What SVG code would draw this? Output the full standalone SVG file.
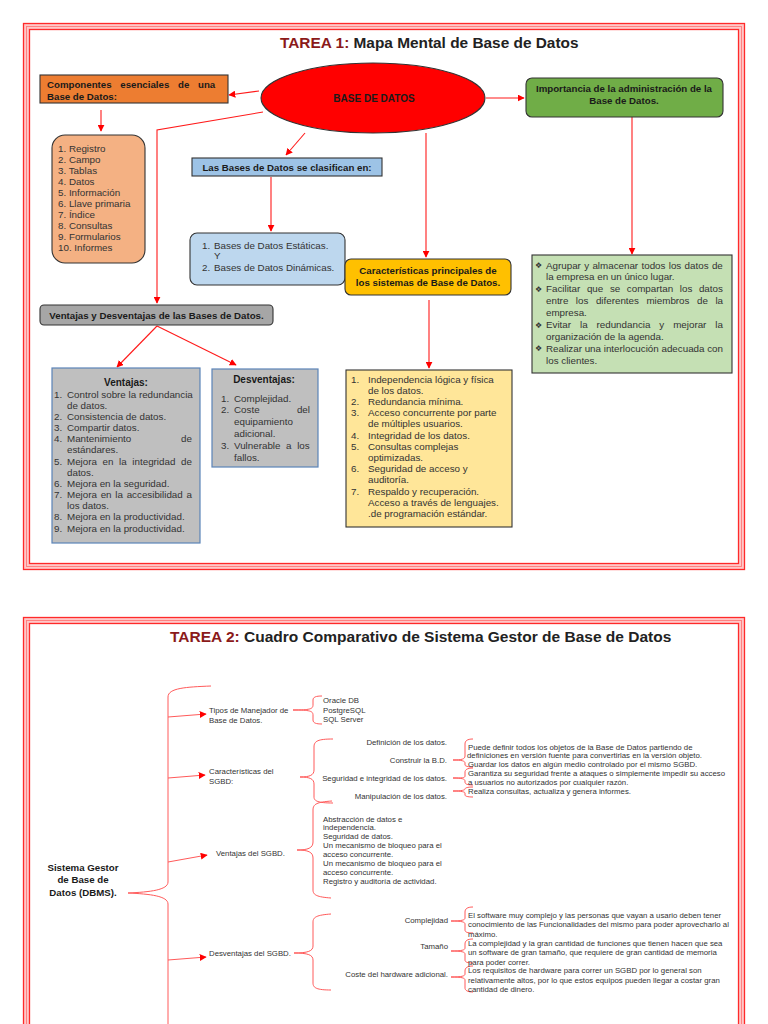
<svg xmlns="http://www.w3.org/2000/svg" width="768" height="1024" viewBox="0 0 768 1024">
<style>
text{font-family:"Liberation Sans",Arial,sans-serif;}
.t{font-size:9.8px;fill:#333;}
.bd{font-size:9.7px;font-weight:bold;fill:#1a1a1a;}
.s{font-size:7.8px;fill:#333;}
.m{text-anchor:middle;}
.e{text-anchor:end;}
.bul{font-family:"DejaVu Sans",sans-serif;font-size:8px;fill:#333;}
.box{stroke:#333;stroke-width:1.1;}
.gb{stroke:#5b84b8;stroke-width:1.2;}
.con{stroke:#ff1a1a;stroke-width:1.1;fill:none;}
.con2{stroke:#ff5a5a;stroke-width:1;fill:none;}
.br{stroke:#ff5a5a;stroke-width:1;fill:none;}
.fu{fill:none;stroke:#ffc8c8;stroke-width:7;}
.fr{fill:none;stroke:#ff2a2a;stroke-width:1.3;}
.fm{fill:none;stroke:#ff7a7a;stroke-width:0.9;}
</style>
<defs>
<marker id="ah" viewBox="0 0 10 10" refX="9" refY="5" markerWidth="7" markerHeight="7" markerUnits="userSpaceOnUse" orient="auto">
<path d="M0,0 L10,5 L0,10 Z" fill="#ff0000"/>
</marker>
</defs>
<rect width="768" height="1024" fill="#ffffff"/>

<g id="frame1">
<rect class="fu" x="26.5" y="26.5" width="715" height="540"/>
<rect class="fr" x="23.5" y="23.5" width="721" height="546"/>
<rect class="fm" x="26.5" y="26.5" width="715" height="540"/>
<rect class="fr" x="29.5" y="29.5" width="709" height="534"/>
</g>
<g id="frame2">
<rect class="fu" x="26.5" y="620.5" width="715" height="440"/>
<rect class="fr" x="23.5" y="617.5" width="721" height="446"/>
<rect class="fm" x="26.5" y="620.5" width="715" height="440"/>
<rect class="fr" x="29.5" y="623.5" width="709" height="434"/>
</g>

<g id="title1">
<text x="280" y="48" style="font-size:15.4px;font-weight:bold;fill:#222"><tspan fill="#8b1a1a">TAREA 1:</tspan> Mapa Mental de Base de Datos</text>
</g>

<g id="connectors">
<line class="con" x1="259" y1="91" x2="229" y2="95" marker-end="url(#ah)"/>
<line class="con" x1="486" y1="98" x2="524" y2="98" marker-end="url(#ah)"/>
<line class="con" x1="101" y1="110" x2="101" y2="131" marker-end="url(#ah)"/>
<line class="con" x1="305" y1="133" x2="286" y2="155" marker-end="url(#ah)"/>
<polyline class="con" points="263,112 157,130 157,303" marker-end="url(#ah)"/>
<line class="con" x1="271" y1="177" x2="271" y2="231" marker-end="url(#ah)"/>
<line class="con" x1="426" y1="133" x2="426" y2="257" marker-end="url(#ah)"/>
<line class="con" x1="632" y1="117" x2="632" y2="254" marker-end="url(#ah)"/>
<line class="con" x1="429" y1="300" x2="429" y2="368" marker-end="url(#ah)"/>
<line class="con" x1="157" y1="326" x2="117" y2="367" marker-end="url(#ah)"/>
<line class="con" x1="157" y1="326" x2="236" y2="365" marker-end="url(#ah)"/>

<path class="br" d="M211 686 C186 687 168 688 168 697 L168 882 C168 890 150 892 128 893 C150 894 168 896 168 904 L168 1030"/>
<line class="con2" x1="168" y1="717" x2="206" y2="714" marker-end="url(#ah)"/>
<line class="con2" x1="168" y1="778" x2="205" y2="775" marker-end="url(#ah)"/>
<line class="con2" x1="168" y1="862" x2="207" y2="855" marker-end="url(#ah)"/>
<line class="con2" x1="168" y1="960" x2="206" y2="957" marker-end="url(#ah)"/>

<path class="br" d="M322 696 C316 696 313 697 313 700 L313 705 C313 709 310 710 293 710 C310 710 313 711 313 715 L313 720 C313 723 316 724 322 724"/>
<path class="br" d="M333 739 C318 739 314 741 314 747 L314 770 C314 775 310 777 300 777 C310 777 314 779 314 784 L314 797 C314 801 318 803 333 803"/>
<path class="br" d="M332 801 C317 802 313 804 313 810 L313 842 C313 848 308 850 297 850 C308 850 313 852 313 858 L313 890 C313 895 317 897 331 898"/>
<path class="br" d="M331 914 C317 915 313 917 313 922 L313 946 C313 951 308 953 294 953 C308 953 313 955 313 960 L313 983 C313 988 317 990 331 990"/>

<path class="br" d="M473 739 C467 739 465 741 465 744 L465 756 C465 759 462 760 453 760 C462 760 465 761 465 763 L465 765 C465 766 468 767 473 767"/>
<path class="br" d="M473 768 C467 768 465 770 465 772 L465 776 C465 778 462 778 453 778 C462 778 465 779 465 781 L465 782 C465 784 467 785 473 785"/>
<path class="br" d="M473 787 C467 787 465 788 465 789 C465 790 462 791 453 791 C462 791 465 792 465 793 L465 795 C465 796 467 797 473 797"/>

<path class="br" d="M473 907 C467 907 465 909 465 912 L465 918 C465 920 462 921 451 921 C462 921 465 922 465 924 L465 930 C465 932 467 933 473 933"/>
<path class="br" d="M473 939 C467 939 465 941 465 944 L465 948 C465 950 462 951 451 951 C462 951 465 952 465 954 L465 960 C465 962 467 963 473 963"/>
<path class="br" d="M473 966 C467 966 465 968 465 971 L465 974 C465 976 462 977 451 977 C462 977 465 978 465 980 L465 988 C465 990 467 992 473 992"/>
</g>

<g id="n-componentes">
<rect class="box" x="40" y="75" width="188" height="28" fill="#ed7d31"/>
<text class="bd" x="47" y="87.5" word-spacing="6">Componentes esenciales de una</text>
<text class="bd" x="47" y="99.5">Base de Datos:</text>
</g>

<g id="n-basedatos">
<ellipse class="box" cx="373" cy="98" rx="112" ry="35" fill="#ff0000"/>
<text class="bd m" x="374" y="102" style="font-size:10px">BASE DE DATOS</text>
</g>

<g id="n-importancia">
<rect class="box" x="526" y="78" width="197" height="39" rx="6" fill="#70ad47"/>
<text class="bd m" x="624" y="92">Importancia de la administración de la</text>
<text class="bd m" x="624" y="104">Base de Datos.</text>
</g>

<g id="n-lista">
<rect class="box" x="52" y="135" width="93" height="128" rx="13" fill="#f4b183"/>
<text class="t" x="58" y="151.5">1. Registro</text>
<text class="t" x="58" y="162.6">2. Campo</text>
<text class="t" x="58" y="173.7">3. Tablas</text>
<text class="t" x="58" y="184.8">4. Datos</text>
<text class="t" x="58" y="195.9">5. Información</text>
<text class="t" x="58" y="207">6. Llave primaria</text>
<text class="t" x="58" y="218.1">7. Índice</text>
<text class="t" x="58" y="229.2">8. Consultas</text>
<text class="t" x="58" y="240.3">9. Formularios</text>
<text class="t" x="58" y="251.4">10. Informes</text>
</g>

<g id="n-clasifican">
<rect class="box" x="192" y="158" width="190" height="18" fill="#9dc3e6"/>
<text class="bd m" x="287" y="171">Las Bases de Datos se clasifican en:</text>
</g>

<g id="n-tipos">
<rect class="box" x="190" y="233" width="155" height="52" rx="7" fill="#bdd7ee"/>
<text class="t" x="202" y="248.5">1.</text>
<text class="t" x="214" y="248.5">Bases de Datos Estáticas.</text>
<text class="t" x="214" y="259">Y</text>
<text class="t" x="202" y="270.5">2.</text>
<text class="t" x="214" y="270.5">Bases de Datos Dinámicas.</text>
</g>

<g id="n-caracteristicas">
<rect class="box" x="345" y="259" width="166" height="36" rx="6" fill="#ffc000"/>
<text class="bd m" x="428" y="273.5">Características principales de</text>
<text class="bd m" x="428" y="285.5">los sistemas de Base de Datos.</text>
</g>

<g id="n-caract-lista">
<rect class="box" x="346" y="370" width="166" height="157" fill="#ffe699"/>
<text class="t" x="351" y="382.5">1.</text><text class="t" x="368" y="382.5">Independencia lógica y física</text>
<text class="t" x="368" y="393.7">de los datos.</text>
<text class="t" x="351" y="404.9">2.</text><text class="t" x="368" y="404.9">Redundancia mínima.</text>
<text class="t" x="351" y="416.1">3.</text><text class="t" x="368" y="416.1">Acceso concurrente por parte</text>
<text class="t" x="368" y="427.3">de múltiples usuarios.</text>
<text class="t" x="351" y="438.5">4.</text><text class="t" x="368" y="438.5">Integridad de los datos.</text>
<text class="t" x="351" y="449.7">5.</text><text class="t" x="368" y="449.7">Consultas complejas</text>
<text class="t" x="368" y="460.9">optimizadas.</text>
<text class="t" x="351" y="472.1">6.</text><text class="t" x="368" y="472.1">Seguridad de acceso y</text>
<text class="t" x="368" y="483.3">auditoría.</text>
<text class="t" x="351" y="494.5">7.</text><text class="t" x="368" y="494.5">Respaldo y recuperación.</text>
<text class="t" x="368" y="505.7">Acceso a través de lenguajes.</text>
<text class="t" x="368" y="516.9">.de programación estándar.</text>
</g>

<g id="n-importancia-lista">
<rect class="box" x="532" y="255" width="200" height="118" fill="#c5e0b4"/>
<text class="bul" x="535" y="268">❖</text><text class="t" x="546" y="268.5" word-spacing="0.6">Agrupar y almacenar todos los datos de</text>
<text class="t" x="546" y="280.4">la empresa en un único lugar.</text>
<text class="bul" x="535" y="291.8">❖</text><text class="t" x="546" y="292.3" word-spacing="3.9">Facilitar que se compartan los datos</text>
<text class="t" x="546" y="304.2" word-spacing="4.8">entre los diferentes miembros de la</text>
<text class="t" x="546" y="316.1">empresa.</text>
<text class="bul" x="535" y="327.5">❖</text><text class="t" x="546" y="328" word-spacing="6.2">Evitar la redundancia y mejorar la</text>
<text class="t" x="546" y="339.9">organización de la agenda.</text>
<text class="bul" x="535" y="351.3">❖</text><text class="t" x="546" y="351.8">Realizar una interlocución adecuada con</text>
<text class="t" x="546" y="363.7">los clientes.</text>
</g>

<g id="n-ventdesv">
<rect class="box" x="40" y="305" width="233" height="20" rx="4" fill="#a6a6a6"/>
<text class="bd m" x="156.5" y="318.5">Ventajas y Desventajas de las Bases de Datos.</text>
</g>

<g id="n-ventajas">
<rect class="gb" x="52" y="368" width="148" height="175" fill="#bfbfbf"/>
<text class="bd m" x="126" y="385.5" style="font-size:10px">Ventajas:</text>
<text class="t" x="54" y="397.5">1.</text><text class="t" x="67" y="397.5">Control sobre la redundancia</text>
<text class="t" x="67" y="408.7">de datos.</text>
<text class="t" x="54" y="419.8">2.</text><text class="t" x="67" y="419.8">Consistencia de datos.</text>
<text class="t" x="54" y="431">3.</text><text class="t" x="67" y="431">Compartir datos.</text>
<text class="t" x="54" y="442.2">4.</text><text class="t" x="67" y="442.2">Mantenimiento</text><text class="t e" x="192" y="442.2">de</text>
<text class="t" x="67" y="453.4">estándares.</text>
<text class="t" x="54" y="464.5">5.</text><text class="t" x="67" y="464.5" word-spacing="2.9">Mejora en la integridad de</text>
<text class="t" x="67" y="475.7">datos.</text>
<text class="t" x="54" y="486.9">6.</text><text class="t" x="67" y="486.9">Mejora en la seguridad.</text>
<text class="t" x="54" y="498">7.</text><text class="t" x="67" y="498" word-spacing="1">Mejora en la accesibilidad a</text>
<text class="t" x="67" y="509.2">los datos.</text>
<text class="t" x="54" y="520.4">8.</text><text class="t" x="67" y="520.4">Mejora en la productividad.</text>
<text class="t" x="54" y="531.6">9.</text><text class="t" x="67" y="531.6">Mejora en la productividad.</text>
</g>

<g id="n-desventajas">
<rect class="gb" x="212" y="369" width="106" height="98" fill="#bfbfbf"/>
<text class="bd m" x="264" y="382.5" style="font-size:10px">Desventajas:</text>
<text class="t" x="221" y="401.5">1.</text><text class="t" x="234" y="401.5">Complejidad.</text>
<text class="t" x="221" y="413.3">2.</text><text class="t" x="234" y="413.3">Coste</text><text class="t e" x="310" y="413.3">del</text>
<text class="t" x="234" y="425.1">equipamiento</text>
<text class="t" x="234" y="436.9">adicional.</text>
<text class="t" x="221" y="448.7">3.</text><text class="t" x="234" y="448.7" word-spacing="2.9">Vulnerable a los</text>
<text class="t" x="234" y="460.5">fallos.</text>
</g>

<g id="title2">
<text x="170" y="642" style="font-size:15.5px;font-weight:bold;fill:#222"><tspan fill="#8b1a1a">TAREA 2:</tspan> Cuadro Comparativo de Sistema Gestor de Base de Datos</text>
</g>

<g id="n-sgbd">
<text class="bd m" x="83" y="870.5">Sistema Gestor</text>
<text class="bd m" x="83" y="883">de Base de</text>
<text class="bd m" x="83" y="895.5">Datos (DBMS).</text>
</g>

<g id="n-tipos-manejador">
<text class="s" x="209" y="713">Tipos de Manejador de</text>
<text class="s" x="209" y="722.5">Base de Datos.</text>
</g>
<g id="n-manejadores">
<text class="s" x="323" y="703">Oracle DB</text>
<text class="s" x="323" y="712.5">PostgreSQL</text>
<text class="s" x="323" y="722">SQL Server</text>
</g>

<g id="n-caract-sgbd">
<text class="s" x="209" y="774">Características del</text>
<text class="s" x="209" y="783.5">SGBD:</text>
</g>
<g id="n-caract-items">
<text class="s e" x="447" y="745">Definición de los datos.</text>
<text class="s e" x="447" y="763">Construir la B.D.</text>
<text class="s e" x="447" y="781">Seguridad e integridad de los datos.</text>
<text class="s e" x="447" y="798.5">Manipulación de los datos.</text>
</g>
<g id="n-caract-desc">
<text class="s" x="468" y="749.5">Puede definir todos los objetos de la Base de Datos partiendo de</text>
<text class="s" x="467" y="758">definiciones en versión fuente para convertirlas en la versión objeto.</text>
<text class="s" x="468" y="766.5">Guardar los datos en algún medio controlado por el mismo SGBD.</text>
<text class="s" x="468" y="776">Garantiza su seguridad frente a ataques o simplemente impedir su acceso</text>
<text class="s" x="468" y="785">a usuarios no autorizados por cualquier razón.</text>
<text class="s" x="468" y="793.5">Realiza consultas, actualiza y genera informes.</text>
</g>

<g id="n-ventajas-sgbd">
<text class="s" x="216" y="855.5">Ventajas del SGBD.</text>
</g>
<g id="n-ventajas-items">
<text class="s" x="323" y="821.5">Abstracción de datos e</text>
<text class="s" x="323" y="830.4">independencia.</text>
<text class="s" x="323" y="839.3">Seguridad de datos.</text>
<text class="s" x="323" y="848.2">Un mecanismo de bloqueo para el</text>
<text class="s" x="323" y="857.1">acceso concurrente.</text>
<text class="s" x="323" y="866">Un mecanismo de bloqueo para el</text>
<text class="s" x="323" y="874.9">acceso concurrente.</text>
<text class="s" x="323" y="883.8">Registro y auditoría de actividad.</text>
</g>

<g id="n-desventajas-sgbd">
<text class="s" x="209" y="955.5">Desventajas del SGBD.</text>
</g>
<g id="n-desv-items">
<text class="s e" x="448" y="923">Complejidad</text>
<text class="s e" x="448" y="949">Tamaño</text>
<text class="s e" x="448" y="977">Coste del hardware adicional.</text>
</g>
<g id="n-desv-desc">
<text class="s" x="468" y="917.5">El software muy complejo y las personas que vayan a usario deben tener</text>
<text class="s" x="468" y="927">conocimiento de las Funcionalidades del mismo para poder aprovecharlo al</text>
<text class="s" x="468" y="936.5">máximo.</text>
<text class="s" x="468" y="945.5">La complejidad y la gran cantidad de funciones que tienen hacen que sea</text>
<text class="s" x="468" y="955">un software de gran tamaño, que requiere de gran cantidad de memoria</text>
<text class="s" x="468" y="964.5">para poder correr.</text>
<text class="s" x="468" y="973">Los requisitos de hardware para correr un SGBD por lo general son</text>
<text class="s" x="468" y="982.5">relativamente altos, por lo que estos equipos pueden llegar a costar gran</text>
<text class="s" x="468" y="992">cantidad de dinero.</text>
</g>
</svg>
